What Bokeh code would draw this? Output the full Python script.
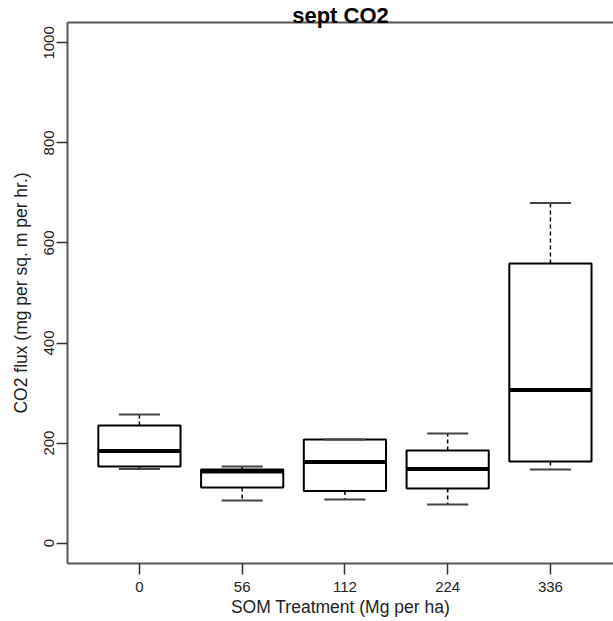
from bokeh.plotting import figure
from bokeh.models import Range1d, FixedTicker, LinearAxis, ColumnDataSource
from bokeh.embed import file_html
from bokeh.resources import INLINE

# ---- data ----
categories = ["0", "56", "112", "224", "336"]
lower_whisker = [148, 85, 87, 77, 147]
q1 = [153, 111, 104, 109, 163]
median = [184, 143, 162, 148, 306]
q3 = [235, 147, 207, 185, 559]
upper_whisker = [257, 153, 207, 219, 680]
y_ticks = [0, 200, 400, 600, 800, 1000]

title_text = "sept CO2"
x_title = "SOM Treatment (Mg per ha)"
y_title = "CO2 flux (mg per sq. m per hr.)"

positions = list(range(1, len(categories) + 1))
box_w = 0.8
cap_w = 0.4

src = ColumnDataSource(dict(
    x=positions, lo=lower_whisker, q1=q1, med=median, q3=q3, hi=upper_whisker,
    xl=[x - box_w / 2 for x in positions], xr=[x + box_w / 2 for x in positions],
    cl=[x - cap_w / 2 for x in positions], cr=[x + cap_w / 2 for x in positions],
))

FONT = "Liberation Sans"
FRAME = "#555555"

p = figure(width=613, height=621, output_backend="svg", toolbar_location=None,
           x_range=Range1d(0.3, 5.614), y_range=Range1d(-40.8, 1040.8),
           min_border_left=67, min_border_right=0, min_border_top=22, min_border_bottom=58,
           background_fill_color="white", border_fill_color="white")
p.outline_line_color = None
p.xgrid.grid_line_color = None
p.ygrid.grid_line_color = None

# title (overlapping the top frame line, as in the reference)
p.title.text = title_text
p.title.align = "center"
p.title.text_font = FONT
p.title.text_font_style = "bold"
p.title.text_font_size = "22px"
p.title.text_color = "black"
p.title.standoff = -10
p.title.offset = 4

# whiskers (dashed)
p.segment(x0="x", y0="q3", x1="x", y1="hi", source=src, line_color="black",
          line_width=1.5, line_dash="4 3")
p.segment(x0="x", y0="q1", x1="x", y1="lo", source=src, line_color="black",
          line_width=1.5, line_dash="4 3")
# boxes
p.vbar(x="x", width=box_w, bottom="q1", top="q3", source=src, fill_color="white",
       line_color="black", line_width=2)
# medians
p.segment(x0="xl", y0="med", x1="xr", y1="med", source=src, line_color="black", line_width=4)
# staples
p.segment(x0="cl", y0="hi", x1="cr", y1="hi", source=src, line_color="#444444", line_width=2)
p.segment(x0="cl", y0="lo", x1="cr", y1="lo", source=src, line_color="#444444", line_width=2)

# x axis
xa = p.xaxis[0]
xa.ticker = FixedTicker(ticks=positions)
xa.major_label_overrides = {pos: c for pos, c in zip(positions, categories)}
xa.minor_tick_line_color = None
xa.major_tick_out = 11
xa.major_tick_in = 0
xa.major_tick_line_color = "#333333"
xa.major_tick_line_width = 1.5
xa.axis_line_color = FRAME
xa.axis_line_width = 2
xa.major_label_text_font = FONT
xa.major_label_text_font_size = "15px"
xa.major_label_text_color = "#222222"
xa.major_label_standoff = 7
xa.axis_label = x_title
xa.axis_label_text_font = FONT
xa.axis_label_text_font_size = "17.5px"
xa.axis_label_text_font_style = "normal"
xa.axis_label_text_color = "#222222"
xa.axis_label_standoff = 2

# y axis
ya = p.yaxis[0]
ya.ticker = FixedTicker(ticks=y_ticks)
ya.minor_tick_line_color = None
ya.major_tick_out = 11
ya.major_tick_in = 0
ya.major_tick_line_color = "#333333"
ya.major_tick_line_width = 1.5
ya.axis_line_color = FRAME
ya.axis_line_width = 2
ya.major_label_orientation = "vertical"
ya.major_label_text_font = FONT
ya.major_label_text_font_size = "15px"
ya.major_label_text_color = "#222222"
ya.major_label_standoff = 2
ya.axis_label = y_title
ya.axis_label_text_font = FONT
ya.axis_label_text_font_size = "17.5px"
ya.axis_label_text_font_style = "normal"
ya.axis_label_text_color = "#222222"
ya.axis_label_standoff = 11

# top frame line
top = LinearAxis(ticker=FixedTicker(ticks=[]), major_tick_out=0, major_tick_in=0,
                 minor_tick_out=0, minor_tick_in=0, major_label_text_font_size="0px",
                 axis_line_color=FRAME, axis_line_width=2, major_label_standoff=0)
p.add_layout(top, "above")

open("out.html", "w").write(file_html(p, INLINE))
